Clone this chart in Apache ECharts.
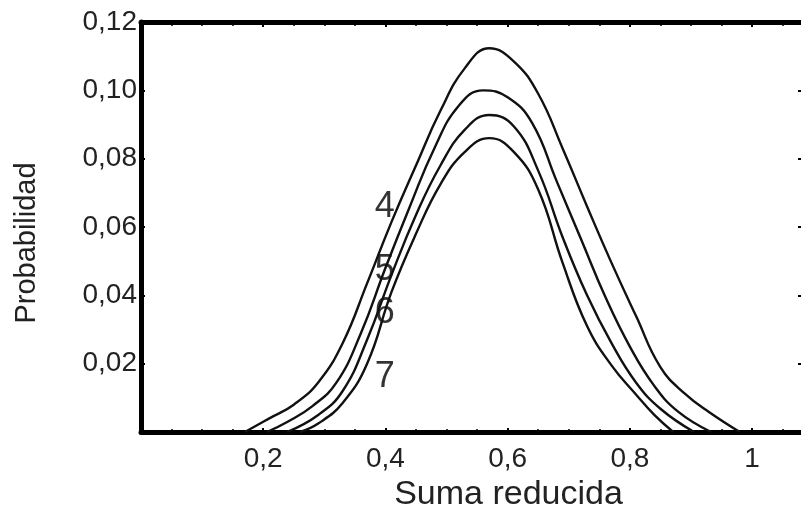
<!DOCTYPE html>
<html>
<head>
<meta charset="utf-8"/>
<title>Suma reducida</title>
<script src="https://cdn.jsdelivr.net/npm/echarts@6/dist/echarts.min.js"></script>
</head>
<body style="margin:0;background:#fff;">
<div id="main" style="width:801px;height:508px;"></div>
<script type="text/javascript">
// curvas: [suma reducida, probabilidad]
var curve4 = [[0.17,0],[0.21,0.004],[0.25,0.008],[0.29,0.0145],[0.33,0.026],[0.37,0.0435],[0.41,0.0615],
  [0.45,0.078],[0.49,0.094],[0.53,0.1065],[0.57,0.1123],[0.61,0.1085],[0.65,0.099],[0.69,0.083],
  [0.73,0.066],[0.77,0.0495],[0.81,0.034],[0.85,0.019],[0.89,0.0112],[0.93,0.0058],[0.98,0]];
var curve5 = [[0.206,0],[0.24,0.003],[0.28,0.0075],[0.32,0.0145],[0.36,0.029],[0.40,0.048],[0.44,0.066],
  [0.48,0.083],[0.52,0.0955],[0.56,0.1],[0.60,0.098],[0.64,0.0905],[0.68,0.0735],[0.72,0.0565],
  [0.76,0.0395],[0.80,0.025],[0.84,0.0135],[0.88,0.0058],[0.933,0]];
var curve6 = [[0.239,0],[0.29,0.005],[0.33,0.012],[0.37,0.027],[0.41,0.046],[0.45,0.0635],[0.49,0.078],
  [0.53,0.0885],[0.57,0.0928],[0.61,0.0895],[0.65,0.0765],[0.69,0.057],[0.73,0.040],[0.77,0.026],
  [0.81,0.0145],[0.85,0.0068],[0.905,0]];
var curve7 = [[0.26,0],[0.29,0.0025],[0.33,0.0085],[0.37,0.02],[0.41,0.041],[0.45,0.058],[0.49,0.0725],
  [0.53,0.082],[0.57,0.086],[0.61,0.082],[0.65,0.071],[0.69,0.0495],[0.73,0.031],[0.77,0.0195],
  [0.81,0.011],[0.84,0.005],[0.871,0]];
var curveNames = ['4', '5', '6', '7'];
var curveLabelPos = [[0.399,0.0659],[0.399,0.0474],[0.399,0.0348],[0.399,0.0161]];

var dom = document.getElementById('main');
var myChart = echarts.init(dom);

var fontName = 'Liberation Sans';
var lineCol = '#111';

function fmtX(v) {
    if (v === 0 || Math.abs(v * 5 - Math.round(v * 5)) > 1e-6) return '';
    return String(Math.round(v * 10) / 10).replace('.', ',');
}
function fmtY(v) {
    if (v === 0) return '';
    return v.toFixed(2).replace('.', ',');
}

var frameLine = {show: true, onZero: false, lineStyle: {color: '#000', width: 5}};

var series = [curve4, curve5, curve6, curve7].map(function (c, i) {
    return {
        name: curveNames[i],
        type: 'line',
        data: c,
        smooth: 0.45,
        showSymbol: false,
        silent: true,
        lineStyle: {color: lineCol, width: 2.4}
    };
});
// numeros de las curvas
series.push({
    type: 'scatter',
    symbolSize: 0,
    silent: true,
    data: curveLabelPos.map(function (p, i) { return {value: p, name: curveNames[i]}; }),
    label: {
        show: true,
        position: 'inside',
        formatter: '{b}',
        fontFamily: fontName,
        fontSize: 36,
        color: '#000'
    }
});

option = {
    backgroundColor: '#fff',
    animation: false,
    grid: {left: 141, top: 22, right: -3, bottom: 76, outerBoundsMode: 'none', containLabel: false},
    xAxis: [{
        type: 'value',
        min: 0, max: 1.085, interval: 0.2,
        name: 'Suma reducida',
        nameLocation: 'middle',
        nameGap: 44,
        nameTextStyle: {fontFamily: fontName, fontSize: 34, color: '#222', padding: [0, 0, 0, 72]},
        axisLine: frameLine,
        axisTick: {show: true, inside: true, length: 4, lineStyle: {color: '#000', width: 2}},
        minorTick: {show: true, splitNumber: 4, length: 3, lineStyle: {color: '#000', width: 1.5}},
        axisLabel: {formatter: fmtX, margin: 13, fontFamily: fontName, fontSize: 28, color: '#222',
            showMaxLabel: false},
        splitLine: {show: false}
    }, {
        type: 'value',
        position: 'top',
        min: 0, max: 1.085, interval: 0.2,
        axisLine: frameLine,
        axisTick: {show: true, inside: true, length: 5, lineStyle: {color: '#000', width: 2}},
        minorTick: {show: true, splitNumber: 4, length: 4, lineStyle: {color: '#000', width: 1.5}},
        axisLabel: {show: false},
        splitLine: {show: false}
    }],
    yAxis: [{
        type: 'value',
        min: 0, max: 0.12, interval: 0.02,
        name: 'Probabilidad',
        nameLocation: 'middle',
        nameGap: 100,
        nameTextStyle: {fontFamily: fontName, fontSize: 29, color: '#222', padding: [0, 32, 0, 0]},
        axisLine: frameLine,
        axisTick: {show: true, inside: true, length: 4, lineStyle: {color: '#000', width: 2}},
        axisLabel: {formatter: fmtY, margin: 4, fontFamily: fontName, fontSize: 28, color: '#222'},
        splitLine: {show: false}
    }, {
        type: 'value',
        position: 'right',
        min: 0, max: 0.12, interval: 0.02,
        axisLine: frameLine,
        axisTick: {show: true, inside: true, length: 6, lineStyle: {color: '#000', width: 2}},
        axisLabel: {show: false},
        splitLine: {show: false}
    }],
    series: series
};
myChart.setOption(option);
</script>
</body>
</html>
